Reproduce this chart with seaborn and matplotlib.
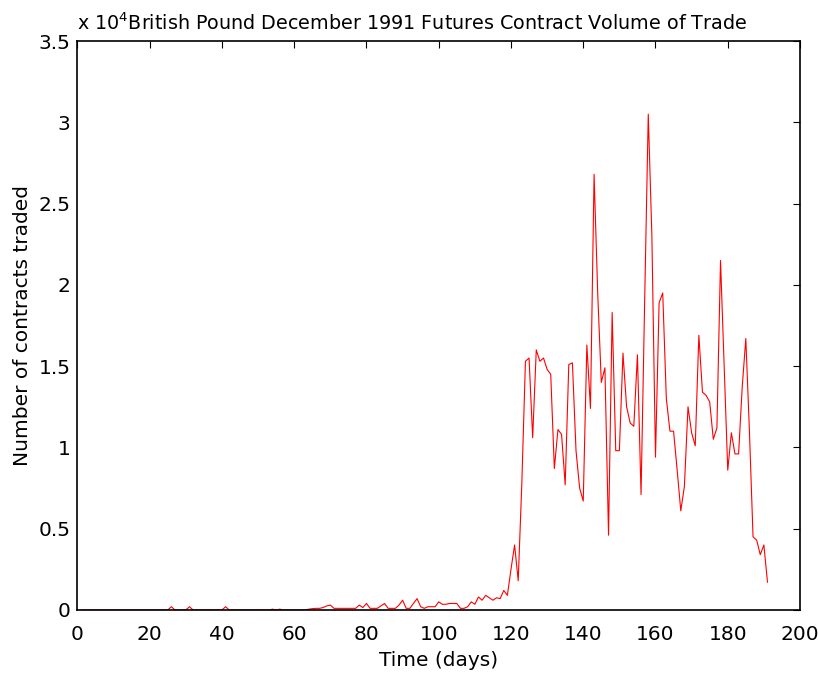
import numpy as np
import pandas as pd
import matplotlib
matplotlib.use("Agg")
import matplotlib.pyplot as plt
from matplotlib.ticker import FuncFormatter
import seaborn as sns

# daily volume of trade (contracts)
volume_early = [0] * 25 + [200, 0, 0, 0, 0, 200] + [0] * 9 + [200] + [0] * 12 + [50, 0, 50] + [0] * 7
volume_late = [
    50, 80, 100, 100, 150, 250, 300, 100, 100, 100, 100, 100, 100, 100,   # 64-77
    300, 150, 400, 100, 100, 100, 250, 400, 100, 100, 100, 300, 600,        # 78-90
    100, 100, 400, 700, 200, 100, 200, 200, 200, 500,                       # 91-100
    350, 350, 400, 400, 400, 100, 100, 200, 500, 350,                       # 101-110
    800, 600, 900, 750, 600, 750, 700, 1200, 900, 2500,                     # 111-120
    4000, 1800, 7800, 15300, 15500, 10600, 16000, 15300, 15500, 14800,      # 121-130
    14500, 8700, 11100, 10800, 7700, 15100, 15200, 9800, 7500, 6700,        # 131-140
    16300, 12400, 26800, 19500, 14000, 14900, 4600, 18300, 9800, 9800,      # 141-150
    15800, 12500, 11500, 11300, 15700, 7100, 19000, 30500, 23000, 9400,     # 151-160
    18900, 19500, 13000, 11000, 11000, 8600, 6100, 7600, 12500, 10900,      # 161-170
    10100, 16900, 13400, 13200, 12800, 10500, 11200, 21500, 15000, 8600,    # 171-180
    10900, 9600, 9600, 13700, 16700, 11000, 4500, 4300, 3400, 4000,         # 181-190
    1700,                                                                    # 191
]
volume = volume_early + volume_late
days = list(range(1, len(volume) + 1))

x_ticks = list(range(0, 201, 20))
y_ticks = [0, 5000, 10000, 15000, 20000, 25000, 30000, 35000]

df = pd.DataFrame({"day": days, "volume": volume})

sns.set_style("white")
plt.rcParams['font.family'] = ['DejaVu Sans']
plt.rcParams['mathtext.fontset'] = 'dejavusans'
plt.rcParams['text.color'] = 'black'
plt.rcParams['axes.labelcolor'] = 'black'

fs = 14.5
fig = plt.figure(figsize=(8.18, 6.77), dpi=100)
ax = fig.add_axes([0.0947, 0.099, 0.8833, 0.8404])

sns.lineplot(data=df, x="day", y="volume", color="#ff0000", linewidth=0.8, ax=ax)

ax.set_xlim(0, 200)
ax.set_ylim(0, 35000)
ax.set_xticks(x_ticks)
ax.set_yticks(y_ticks)
ax.yaxis.set_major_formatter(FuncFormatter(lambda v, p: "%g" % (v / 1e4)))
ax.tick_params(direction="in", length=5, width=0.8, top=True, right=True,
               labelsize=fs, colors="black")
ax.tick_params(axis="x", pad=11)
ax.tick_params(axis="y", pad=5)
for s in ax.spines.values():
    s.set_visible(True)
    s.set_color("black")
    s.set_linewidth(1.2)

ax.set_xlabel("Time (days)", fontsize=fs, labelpad=5)
ax.set_ylabel("Number of contracts traded", fontsize=fs, labelpad=5)
ax.text(0.0, 0.0193, "x 10$^{4}$British Pound December 1991 Futures Contract Volume of Trade",
        transform=ax.transAxes + matplotlib.transforms.ScaledTranslation(0, 569 / 100, fig.dpi_scale_trans),
        ha="left", va="baseline", fontsize=13.8, color="black")

fig.savefig("out.png", dpi=100)
